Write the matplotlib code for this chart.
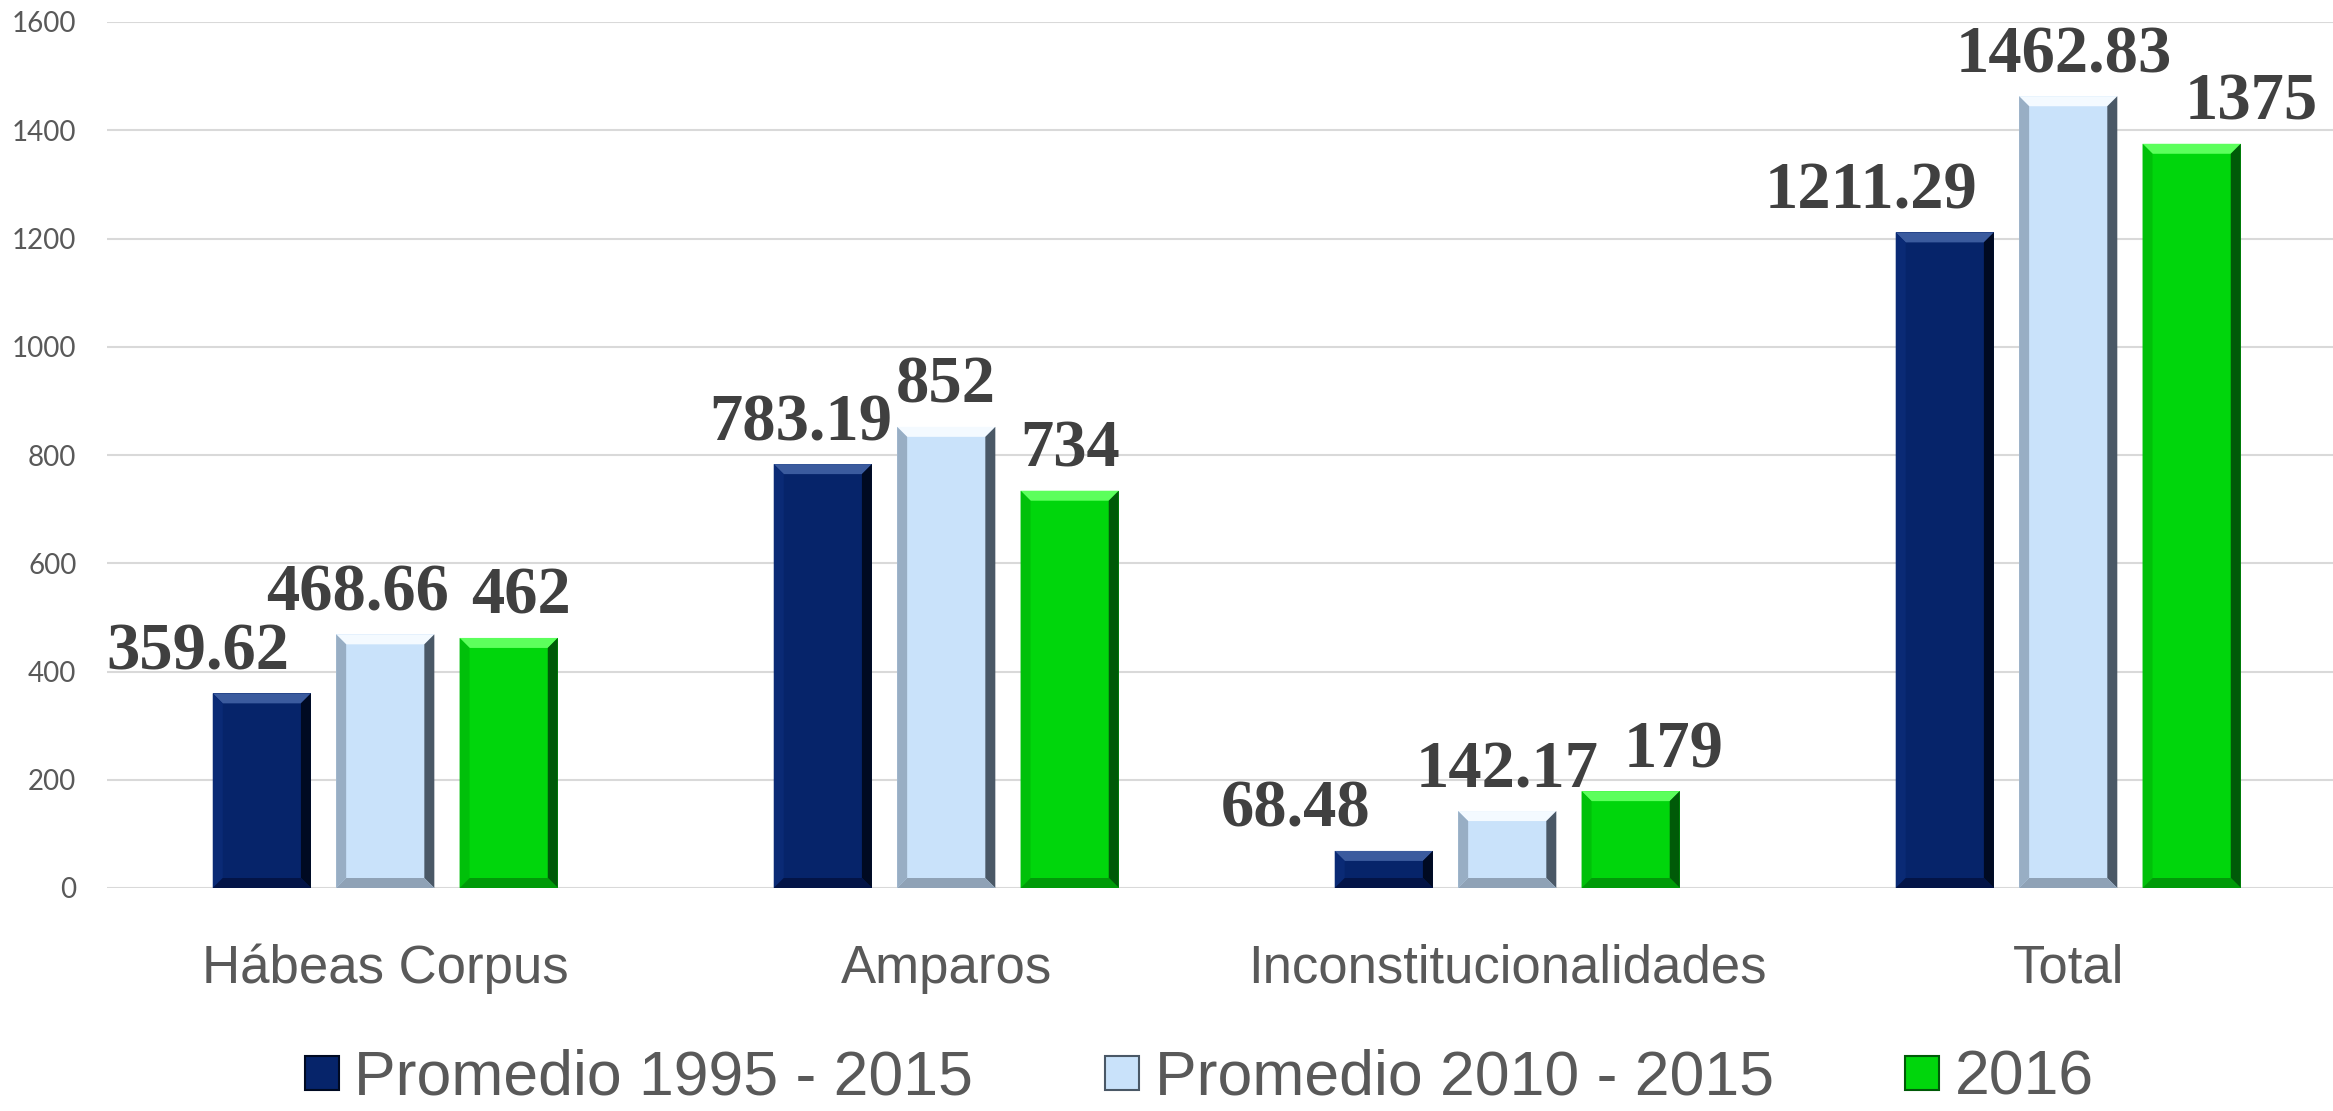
import matplotlib
matplotlib.use('Agg')
import matplotlib.pyplot as plt
from matplotlib.patches import Polygon
from matplotlib.lines import Line2D
import numpy as np

categories = ['Hábeas Corpus', 'Amparos', 'Inconstitucionalidades', 'Total']
series_names = ['Promedio 1995 - 2015', 'Promedio 2010 - 2015', '2016']
prom_1995_2015 = [359.62, 783.19, 68.48, 1211.29]
prom_2010_2015 = [468.66, 852, 142.17, 1462.83]
year_2016 = [462, 734, 179, 1375]
value_labels = [['359.62', '783.19', '68.48', '1211.29'],
                ['468.66', '852', '142.17', '1462.83'],
                ['462', '734', '179', '1375']]
yticks = [0, 200, 400, 600, 800, 1000, 1200, 1400, 1600]

# style
colors = ['#06246A', '#C9E2FA', '#00D60C']
bevel_top = ['#3B5B9E', '#F4FAFF', '#5CFF5C']
bevel_right = ['#000A22', '#4A5866', '#005A08']
bevel_left = ['#0A2A75', '#98AEC4', '#00C00A']
bevel_bottom = ['#031447', '#8FA2B6', '#009A08']
# manual label nudges (pixels) like in the original
label_dx = [[-64, -22, -88, -74],
            [-28, 0, 0, -4],
            [12, 0, 43, 60]]
label_color = '#404040'
axis_text = '#595959'

fig = plt.figure(figsize=(23.33, 11.11), dpi=100)
ax = fig.add_axes([107 / 2333, 1 - 888 / 1111, 1 - 107 / 2333, (888 - 22) / 1111])

x = np.arange(len(categories))
width = 0.175
step = 0.22
data = [prom_1995_2015, prom_2010_2015, year_2016]

ax.set_xlim(-0.496, 3.472)
ax.set_ylim(0, 1600)

px_x = 561.0          # pixels per category
px_y = 866.0 / 1600   # pixels per value unit
bev = 10.0
bx = bev / px_x
by = bev / px_y

for i, vals in enumerate(data):
    bars = ax.bar(x + (i - 1) * step, vals, width, color=colors[i], zorder=2,
                  label=series_names[i])
    for j, b in enumerate(bars):
        x0 = b.get_x()
        x1 = x0 + b.get_width()
        h = b.get_height()
        top = Polygon([(x0, h), (x1, h), (x1 - bx, h - by), (x0 + bx, h - by)],
                      closed=True, color=bevel_top[i], lw=0, zorder=3)
        right = Polygon([(x1, h), (x1, 0), (x1 - bx, by), (x1 - bx, h - by)],
                        closed=True, color=bevel_right[i], lw=0, zorder=3)
        left = Polygon([(x0, h), (x0, 0), (x0 + bx, by), (x0 + bx, h - by)],
                       closed=True, color=bevel_left[i], lw=0, zorder=3)
        bottom = Polygon([(x0, 0), (x1, 0), (x1 - bx, by), (x0 + bx, by)],
                         closed=True, color=bevel_bottom[i], lw=0, zorder=3)
        for p in (top, right, left, bottom):
            ax.add_patch(p)
        ax.annotate(value_labels[i][j], (b.get_x() + b.get_width() / 2, h),
                    xytext=(label_dx[i][j] * 0.72, 24 * 0.72),
                    textcoords='offset points', ha='center', va='baseline',
                    fontsize=48, fontweight='bold', family='Liberation Serif',
                    color=label_color, zorder=4)

ax.set_yticks(yticks)
ax.set_yticklabels([str(t) for t in yticks], fontsize=20, color=axis_text,
                   family='Lato')
ax.set_xticks(x)
ax.set_xticklabels(categories, fontsize=38, color=axis_text,
                   family='Liberation Sans')
ax.tick_params(axis='y', length=0, pad=22)
ax.tick_params(axis='x', length=0, pad=40)
ax.grid(axis='y', color='#D9D9D9', linewidth=1.5, zorder=0)
ax.set_axisbelow(True)
for s in ax.spines.values():
    s.set_visible(False)

handles = [Line2D([], [], marker='s', linestyle='none', markersize=24,
                  markerfacecolor=colors[i], markeredgecolor=bevel_right[i],
                  markeredgewidth=1.5) for i in range(3)]
fig.legend(handles, series_names, loc='center', bbox_to_anchor=(0.514, 1 - 1078 / 1111),
           ncol=3, frameon=False, handlelength=0.55,
           handletextpad=0.25, columnspacing=2.1,
           prop={'family': 'Liberation Sans', 'size': 45},
           labelcolor=axis_text, borderpad=0.1)

fig.savefig('out.png', dpi=100)
